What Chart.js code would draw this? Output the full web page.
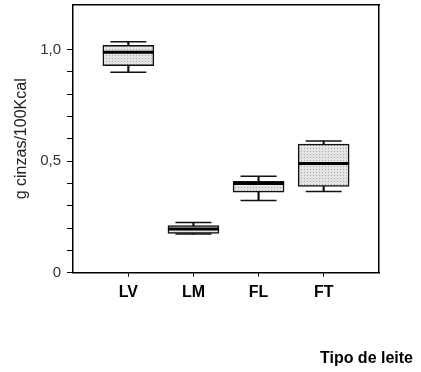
<!DOCTYPE html>
<html>
<head>
<meta charset="utf-8">
<script src="https://cdn.jsdelivr.net/npm/chart.js@4"></script>
<style>
    html, body { margin: 0; padding: 0; background: #fff; }
    #wrap { width: 421px; height: 372px; }
</style>
</head>
<body>
<div id="wrap"><canvas id="chart" width="421" height="372"></canvas></div>
<script>
// milk types and box plot values (g ash / 100 kcal)
let categories = ['LV', 'LM', 'FL', 'FT'];
let minValues = [0.898, 0.173, 0.323, 0.364];
let q1Values = [0.928, 0.176, 0.361, 0.387];
let medianValues = [0.988, 0.196, 0.399, 0.489];
let q3Values = [1.019, 0.211, 0.409, 0.576];
let maxValues = [1.035, 0.225, 0.432, 0.590];
let yTickValues = [0, 0.1, 0.2, 0.3, 0.4, 0.5, 0.6, 0.7, 0.8, 0.9, 1.0];
let yTickLabels = {0: '0', 5: '0,5', 10: '1,0'};

Chart.defaults.font.family = "'Liberation Sans', Arial, sans-serif";

/**
 * Makes the stippled grey fill used inside the boxes.
 */
function stipplePattern() {
    let c = document.createElement('canvas');
    c.width = 3;
    c.height = 3;
    let g = c.getContext('2d');
    g.fillStyle = '#e4e4e4';
    g.fillRect(0, 0, 3, 3);
    g.fillStyle = '#a8a8a8';
    g.fillRect(1, 1, 1, 1);
    return g.createPattern(c, 'repeat');
}

let ctx = document.getElementById('chart').getContext('2d');
let fill = stipplePattern();

function points(values) {
    return values.map((v, i) => ({x: i, y: v}));
}

function ranges(lo, hi) {
    return lo.map((v, i) => ({x: i, y: [v, hi[i]]}));
}

new Chart(ctx, {
    type: 'bar',
    data: {
        datasets: [
            {
                type: 'scatter',
                data: points(medianValues),
                pointStyle: 'line',
                radius: 25.5,
                borderWidth: 3,
                borderColor: '#000',
                order: 1
            },
            {
                type: 'scatter',
                data: points(maxValues).concat(points(minValues)),
                pointStyle: 'line',
                radius: 18,
                borderWidth: 1.5,
                borderColor: '#111',
                order: 1
            },
            {
                data: ranges(q1Values, q3Values),
                backgroundColor: fill,
                borderColor: '#111',
                borderWidth: 1.5,
                borderSkipped: false,
                barThickness: 51,
                grouped: false,
                order: 2
            },
            {
                data: ranges(minValues, q1Values),
                backgroundColor: '#111',
                borderWidth: 0,
                barThickness: 1.5,
                grouped: false,
                order: 3
            },
            {
                data: ranges(q3Values, maxValues),
                backgroundColor: '#111',
                borderWidth: 0,
                barThickness: 1.5,
                grouped: false,
                order: 3
            }
        ]
    },
    options: {
        responsive: false,
        animation: false,
        layout: {
            autoPadding: false,
            padding: {left: 0, right: 8, top: 5, bottom: 4}
        },
        plugins: {
            legend: {display: false},
            tooltip: {enabled: false},
            title: {
                display: true,
                position: 'bottom',
                align: 'end',
                text: 'Tipo de leite',
                color: '#000',
                font: {size: 16, weight: 'bold'},
                padding: {top: 41, bottom: 0}
            }
        },
        scales: {
            x: {
                type: 'linear',
                min: -0.85,
                max: 3.85,
                offset: false,
                afterBuildTicks: function (scale) {
                    scale.ticks = categories.map((c, i) => ({value: i}));
                },
                ticks: {
                    color: '#000',
                    padding: 6,
                    font: {size: 16, weight: 'bold'},
                    callback: function (value) {
                        return categories[value];
                    }
                },
                grid: {
                    offset: false,
                    drawOnChartArea: false,
                    tickLength: 4,
                    color: '#000'
                },
                border: {color: '#000', width: 1.5}
            },
            x2: {
                type: 'linear',
                position: 'top',
                offset: false,
                grid: {display: false},
                ticks: {display: false},
                border: {color: '#000', width: 1.5},
                afterFit: function (scale) {
                    scale.height = 0;
                }
            },
            y: {
                type: 'linear',
                min: 0,
                max: 1.2,
                afterBuildTicks: function (scale) {
                    scale.ticks = yTickValues.map(v => ({value: v}));
                },
                afterFit: function (scale) {
                    scale.width = 73;
                    scale.paddingTop = 0;
                    scale.paddingBottom = 0;
                },
                ticks: {
                    color: '#333',
                    padding: 6,
                    font: {size: 15},
                    callback: function (value) {
                        let label = yTickLabels[Math.round(value * 10)];
                        return label === undefined ? '' : label;
                    }
                },
                grid: {
                    drawOnChartArea: false,
                    tickLength: 6,
                    color: '#000'
                },
                border: {color: '#000', width: 1.5},
                title: {
                    display: true,
                    text: 'g cinzas/100Kcal',
                    color: '#222',
                    font: {size: 16},
                    padding: {top: 12, bottom: 0}
                }
            },
            y2: {
                type: 'linear',
                position: 'right',
                grid: {display: false},
                ticks: {display: false},
                border: {color: '#000', width: 1.5},
                afterFit: function (scale) {
                    scale.width = 34;
                }
            }
        }
    }
});
</script>
</body>
</html>
